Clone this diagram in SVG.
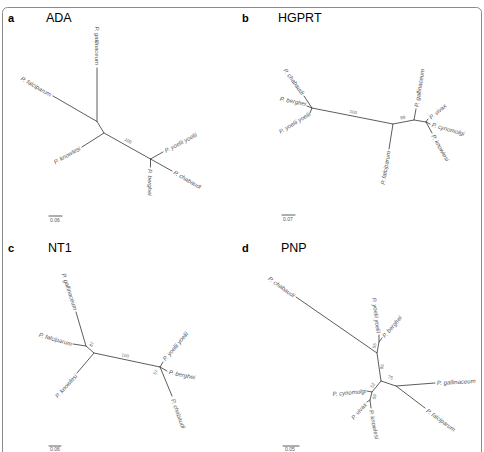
<svg xmlns="http://www.w3.org/2000/svg" width="484" height="452" viewBox="0 0 484 452">
<style>
.frame{fill:none;stroke:#8a8a8a;stroke-width:1}
.br{fill:none;stroke:#333;stroke-width:0.8;stroke-linecap:round}
.sp{font-family:"Liberation Sans",Arial,sans-serif;font-size:6px;font-style:italic;fill:#555}
.bs{font-family:"Liberation Sans",Arial,sans-serif;font-size:4.5px;fill:#666}
.sc{font-family:"Liberation Sans",Arial,sans-serif;font-size:5px;fill:#555}
.pl{font-family:"Liberation Sans",Arial,sans-serif;font-size:11px;font-weight:bold;fill:#000}
.tl{font-family:"Liberation Sans",Arial,sans-serif;font-size:12.5px;fill:#000}
.s{text-anchor:start}.e{text-anchor:end}.m{text-anchor:middle}
</style>
<rect class="frame" x="2.5" y="7.5" width="479" height="470" rx="5"/>

<g id="titles">
<text class="pl" x="8" y="22">a</text><text class="tl" x="46" y="22">ADA</text>
<text class="pl" x="242" y="22">b</text><text class="tl" x="278" y="22">HGPRT</text>
<text class="pl" x="8" y="252">c</text><text class="tl" x="48" y="252">NT1</text>
<text class="pl" x="242" y="252">d</text><text class="tl" x="281" y="252">PNP</text>
</g>

<g id="connectors">
<!-- a -->
<path class="br" d="M97,68V121.5M53,96L97,121.5L104,133L82,147M104,133L150.5,159L163,152M150.5,159L172,171M150.5,159V167"/>
<!-- b -->
<path class="br" d="M304,96L312,108M307,106L312,108L310,113M312,108L393,124L389,149M393,124L414,120L416,109M414,120L426,122L428,119M426,122L430,124M426,122L432,133"/>
<!-- c -->
<path class="br" d="M76,312L86,346M73,344L86,346L94,353L77,373M94,353L160,367L163,362M160,367L167,371M160,367L172,396"/>
<!-- d -->
<path class="br" d="M296,297L377,353L379,342L379,335M379,342L382,338M377,353L381,381L396,386L435,383M396,386L425,408M381,381L372,392L367,391M372,392L370,400L367,402M370,400L371,408"/>
<!-- scale bars -->
<path class="br" d="M49,216H62M282,215H295M49,446H61M283,446H299"/>
</g>

<g id="panel-a">
<g id="a-gallinaceum"><text class="sp e" dy=".35em" transform="translate(97,65) rotate(90)">P. gallinaceum</text></g>
<g id="a-falciparum"><text class="sp e" dy=".35em" transform="translate(51,95) rotate(30)">P. falciparum</text></g>
<g id="a-knowlesi"><text class="sp e" dy=".35em" transform="translate(80,148) rotate(-29)">P. knowlesi</text></g>
<g id="a-yoelii"><text class="sp s" dy=".35em" transform="translate(165,151) rotate(-28)">P. yoelii yoelii</text></g>
<g id="a-chabaudi"><text class="sp s" dy=".35em" transform="translate(174,172) rotate(30)">P. chabaudi</text></g>
<g id="a-berghei"><text class="sp s" dy=".35em" transform="translate(150.5,169) rotate(90)">P. berghei</text></g>
<text class="bs m" transform="translate(127.5,142) rotate(30)">100</text>
<text class="sc" x="50" y="222">0.06</text>
</g>

<g id="panel-b">
<g id="b-chabaudi"><text class="sp e" dy=".35em" transform="translate(303,94) rotate(54)">P. chabaudi</text></g>
<g id="b-berghei"><text class="sp e" dy=".35em" transform="translate(306,104) rotate(12)">P. berghei</text></g>
<g id="b-yoelii"><text class="sp e" dy=".35em" transform="translate(310,113.5) rotate(-31)">P. yoelii yoelii</text></g>
<g id="b-falciparum"><text class="sp e" dy=".35em" transform="translate(388.5,151) rotate(-80)">P. falciparum</text></g>
<g id="b-gallinaceum"><text class="sp s" dy=".35em" transform="translate(416.5,107) rotate(-81)">P. gallinaceum</text></g>
<g id="b-vivax"><text class="sp s" dy=".35em" transform="translate(430,118) rotate(-40)">P. vivax</text></g>
<g id="b-cynomolgi"><text class="sp s" dy=".35em" transform="translate(432,124.5) rotate(16)">P. cynomolgi</text></g>
<g id="b-knowlesi"><text class="sp s" dy=".35em" transform="translate(433,135) rotate(60)">P. knowlesi</text></g>
<text class="bs m" transform="translate(353,113.5) rotate(11)">100</text>
<text class="bs m" transform="translate(403,119) rotate(-10)">88</text>
<text class="sc" x="283" y="221">0.07</text>
</g>

<g id="panel-c">
<g id="c-gallinaceum"><text class="sp e" dy=".35em" transform="translate(75.5,310) rotate(72)">P. gallinaceum</text></g>
<g id="c-falciparum"><text class="sp e" dy=".35em" transform="translate(72,344) rotate(16)">P. falciparum</text></g>
<g id="c-knowlesi"><text class="sp e" dy=".35em" transform="translate(76,375) rotate(-48)">P. knowlesi</text></g>
<g id="c-yoelii"><text class="sp s" dy=".35em" transform="translate(164,360) rotate(-50)">P. yoelii yoelii</text></g>
<g id="c-berghei"><text class="sp s" dy=".35em" transform="translate(169,372) rotate(12)">P. berghei</text></g>
<g id="c-chabaudi"><text class="sp s" dy=".35em" transform="translate(173,399) rotate(70)">P. chabaudi</text></g>
<text class="bs m" transform="translate(93,345) rotate(-60)">87</text>
<text class="bs m" transform="translate(125,357) rotate(12)">100</text>
<text class="bs m" transform="translate(157,373) rotate(-60)">57</text>
<text class="sc" x="50" y="451">0.06</text>
</g>

<g id="panel-d">
<g id="d-chabaudi"><text class="sp e" dy=".35em" transform="translate(294,296) rotate(36)">P. chabaudi</text></g>
<g id="d-yoelii"><text class="sp e" dy=".35em" transform="translate(378.5,333) rotate(83)">P. yoelii yoelii</text></g>
<g id="d-berghei"><text class="sp s" dy=".35em" transform="translate(383.5,337) rotate(-50)">P. berghei</text></g>
<g id="d-gallinaceum"><text class="sp s" dy=".35em" transform="translate(437,383) rotate(-3)">P. gallinaceum</text></g>
<g id="d-falciparum"><text class="sp s" dy=".35em" transform="translate(427,410) rotate(36)">P. falciparum</text></g>
<g id="d-cynomolgi"><text class="sp e" dy=".35em" transform="translate(366,391) rotate(-5)">P. cynomolgi</text></g>
<g id="d-vivax"><text class="sp e" dy=".35em" transform="translate(365.5,403.5) rotate(-50)">P. vivax</text></g>
<g id="d-knowlesi"><text class="sp s" dy=".35em" transform="translate(371,410) rotate(78)">P. knowlesi</text></g>
<text class="bs m" transform="translate(376,346) rotate(-80)">55</text>
<text class="bs m" transform="translate(383.5,367) rotate(-80)">96</text>
<text class="bs m" transform="translate(390,379) rotate(15)">75</text>
<text class="bs m" transform="translate(374,386) rotate(-60)">52</text>
<text class="bs m" transform="translate(376,397) rotate(-80)">59</text>
<text class="sc" x="285" y="451">0.05</text>
</g>
</svg>
